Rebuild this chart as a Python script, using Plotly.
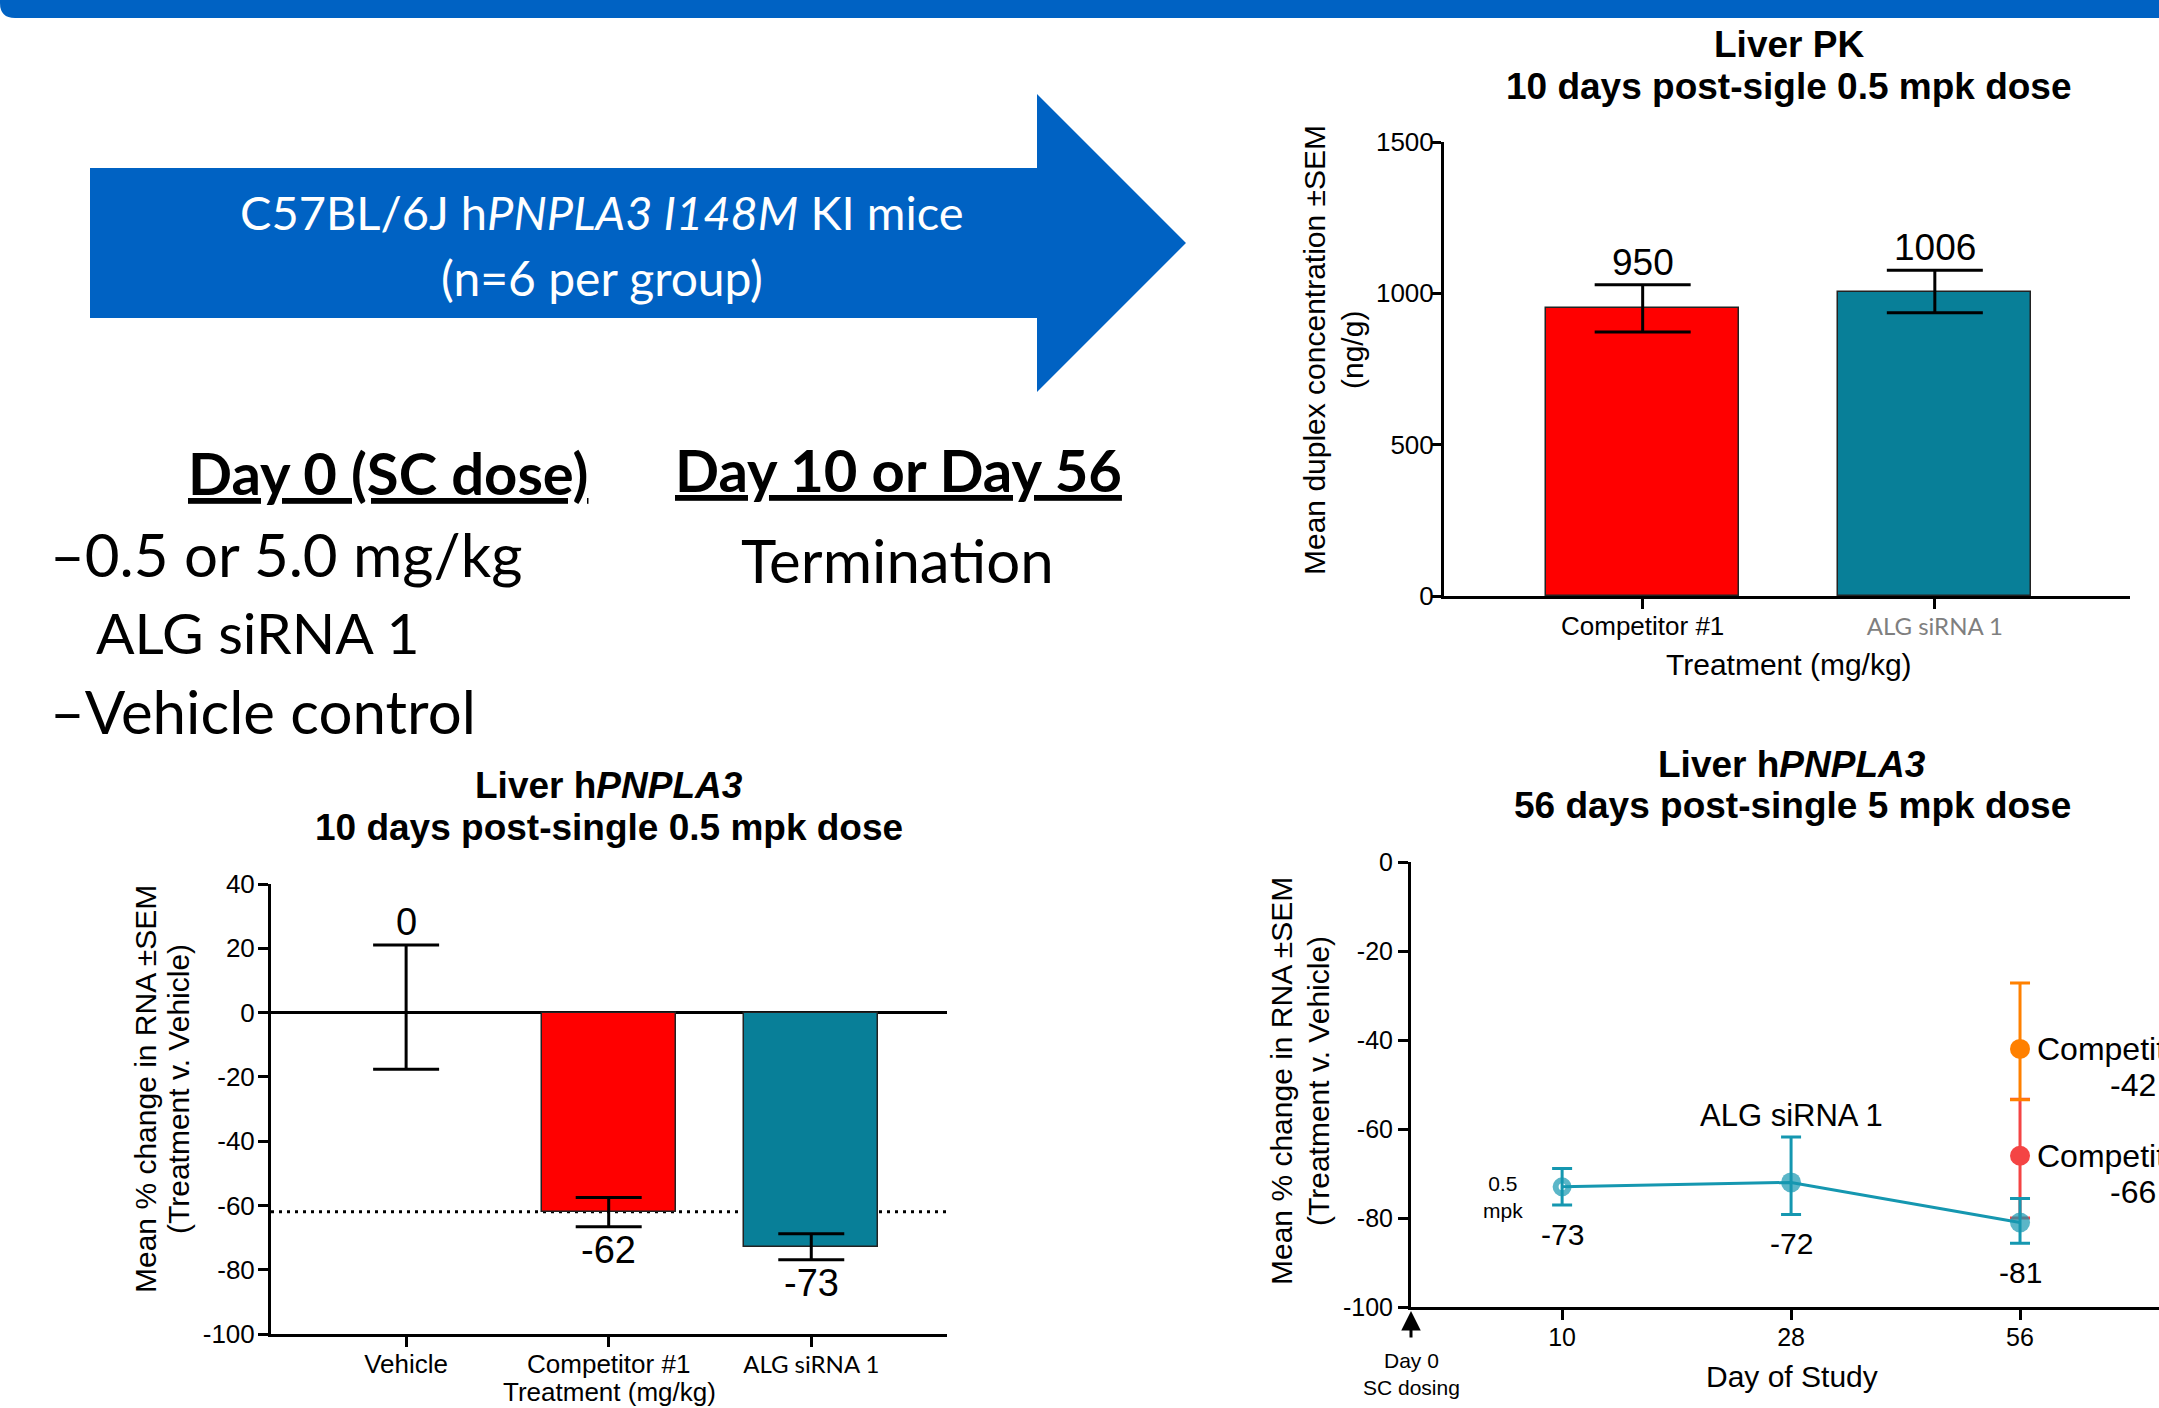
import plotly.graph_objects as go

W, H = 2159, 1408


def px(x):
    return x / W


def py(y):
    return 1 - y / H


BLUE = "#0062C3"
TEAL_BAR = "#087F98"
RED_BAR = "#FF0000"
TEAL_LINE = "#1597B0"
ORANGE = "#FF8000"
RED_PT = "#F44444"
ARIAL = "Liberation Sans, Arial, sans-serif"
CAL = "Lato, Carlito, Calibri, sans-serif"

# ---------------- data ----------------
pk_categories = ["Competitor #1", "ALG siRNA 1"]
pk_values = [950, 1006]
pk_sem = [78, 70]
pk_ticks = [0, 500, 1000, 1500]

kd10_categories = ["Vehicle", "Competitor #1", "ALG siRNA 1"]
kd10_values = [0, -62, -73]
kd10_err_plus = [21, 4.5, 4.2]
kd10_err_minus = [17.6, 4.6, 3.9]
kd10_ticks = [40, 20, 0, -20, -40, -60, -80, -100]

day_labels = ["10", "28", "56"]
alg_values = [-73, -72, -81]
alg_err_plus = [4.1, 10.2, 5.4]
alg_err_minus = [4.1, 7.2, 4.7]
comp1_day = ["56"]
comp1_values = [-66]
comp1_err_plus = [12.7]
comp1_err_minus = [14]
comp2_day = ["56"]
comp2_values = [-42]
comp2_err_plus = [14.8]
comp2_err_minus = [11.4]
kd56_ticks = [0, -20, -40, -60, -80, -100]

fig = go.Figure()

# ---------------- PK bars ----------------
fig.add_trace(go.Bar(
    x=pk_categories, y=pk_values, width=0.66,
    marker=dict(color=[RED_BAR, TEAL_BAR], line=dict(color="#222222", width=1.5)),
    error_y=dict(type="data", array=pk_sem, color="black", thickness=3, width=48),
    xaxis="x", yaxis="y", showlegend=False, hoverinfo="skip"))

# ---------------- 10-day knockdown bars ----------------
fig.add_trace(go.Bar(
    x=kd10_categories, y=kd10_values, width=0.662,
    marker=dict(color=["rgba(0,0,0,0)", RED_BAR, TEAL_BAR],
                line=dict(color="#222222", width=[0, 1.5, 1.5])),
    error_y=dict(type="data", symmetric=False, array=kd10_err_plus,
                 arrayminus=kd10_err_minus, color="black", thickness=3, width=33),
    xaxis="x2", yaxis="y2", showlegend=False, hoverinfo="skip"))

# ---------------- 56-day time course ----------------
fig.add_trace(go.Scatter(
    x=comp1_day, y=comp1_values, mode="markers",
    marker=dict(color=RED_PT, size=20),
    error_y=dict(type="data", symmetric=False, array=comp1_err_plus,
                 arrayminus=comp1_err_minus, color=RED_PT, thickness=3, width=10),
    xaxis="x3", yaxis="y3", showlegend=False, hoverinfo="skip"))
fig.add_trace(go.Scatter(
    x=comp2_day, y=comp2_values, mode="markers",
    marker=dict(color=ORANGE, size=20),
    error_y=dict(type="data", symmetric=False, array=comp2_err_plus,
                 arrayminus=comp2_err_minus, color=ORANGE, thickness=3, width=10),
    xaxis="x3", yaxis="y3", showlegend=False, hoverinfo="skip"))
fig.add_trace(go.Scatter(
    x=day_labels, y=alg_values, mode="lines+markers",
    line=dict(color=TEAL_LINE, width=3),
    marker=dict(color=TEAL_LINE, size=[13, 20, 20],
                symbol=["circle-open", "circle", "circle"],
                line=dict(color=TEAL_LINE, width=[6, 0, 0])),
    error_y=dict(type="data", symmetric=False, array=alg_err_plus,
                 arrayminus=alg_err_minus, color=TEAL_LINE, thickness=3, width=10),
    xaxis="x3", yaxis="y3", showlegend=False, hoverinfo="skip"))

axis_common = dict(showline=True, linecolor="black", linewidth=3, ticks="outside",
                   ticklen=10, tickwidth=3, tickcolor="black", showgrid=False,
                   zeroline=False, automargin=False,
                   tickfont=dict(family=ARIAL, size=26, color="black"))
font25 = dict(family=ARIAL, size=25, color="black")


def cal_span(t, color):
    return f"<span style='font-family:Lato;font-size:24px;color:{color}'>{t}</span>"


fig.update_layout(
    width=W, height=H, margin=dict(l=0, r=0, t=0, b=0, pad=0, autoexpand=False),
    paper_bgcolor="white", plot_bgcolor="white",
    bargap=0, showlegend=False,
    xaxis=dict(domain=[px(1444), px(2130)], anchor="y", type="category",
               categoryorder="array", categoryarray=pk_categories,
               range=[-0.68, 1.668], tickvals=pk_categories,
               ticktext=[pk_categories[0], cal_span(pk_categories[1], "#7F7F7F")],
               ticklabelstandoff=-5, **axis_common),
    yaxis=dict(domain=[py(596), py(142)], anchor="x", range=[0, 1500],
               tickvals=pk_ticks, ticktext=[str(t) for t in pk_ticks],
               ticklabelstandoff=-8, **axis_common),
    xaxis2=dict(domain=[px(271), px(947)], anchor="y2", type="category",
                categoryorder="array", categoryarray=kd10_categories,
                range=[-0.667, 2.67], tickvals=kd10_categories,
                ticktext=kd10_categories[:2] + [cal_span(kd10_categories[2], "black")],
                ticklabelstandoff=-5, **axis_common),
    yaxis2=dict(domain=[py(1334), py(884)], anchor="x2", range=[-100, 40],
                tickvals=kd10_ticks, ticktext=[str(t) for t in kd10_ticks],
                ticklabelstandoff=-2,
                **{**axis_common, "zeroline": True}, zerolinecolor="black",
                zerolinewidth=3),
    xaxis3=dict(domain=[px(1411), 1.0], anchor="y3", type="category",
                categoryorder="array", categoryarray=day_labels,
                range=[-0.66, 2.607], tickvals=day_labels, ticktext=day_labels,
                ticklabelstandoff=-4, **{**axis_common, "tickfont": font25}),
    yaxis3=dict(domain=[py(1307), py(862)], anchor="x3", range=[-100, 0],
                tickvals=kd56_ticks, ticktext=[str(t) for t in kd56_ticks],
                **{**axis_common, "tickfont": font25}),
)


def path_px(points, close=True):
    s = "M " + " L ".join(f"{px(x):.6f},{py(y):.6f}" for x, y in points)
    return s + (" Z" if close else "")


shapes = []
# top banner with rounded bottom-left corner
r = 15
banner = (f"M {px(0):.6f},{py(0):.6f} L {px(W):.6f},{py(0):.6f} L {px(W):.6f},{py(18):.6f} "
          f"L {px(r):.6f},{py(18):.6f} Q {px(0):.6f},{py(18):.6f} {px(0):.6f},{py(18 - r):.6f} Z")
shapes.append(dict(type="path", path=banner, xref="paper", yref="paper",
                   fillcolor=BLUE, line=dict(width=0)))
# big arrow
arrow_pts = [(90, 168), (1037, 168), (1037, 94), (1186, 243), (1037, 392),
             (1037, 318), (90, 318)]
shapes.append(dict(type="path", path=path_px(arrow_pts), xref="paper", yref="paper",
                   fillcolor=BLUE, line=dict(width=0)))
# dotted reference line at the competitor level
shapes.append(dict(type="line", xref="x2", yref="y2", x0=-0.667, x1=2.67,
                   y0=kd10_values[1], y1=kd10_values[1], layer="below",
                   line=dict(color="black", width=3, dash="3px,5px")))
fig.update_layout(shapes=shapes)

anns = []


def ann(text, x, y, size, family=ARIAL, color="black", xanchor="center",
        yanchor="middle", **kw):
    d = dict(text=text, x=px(x), y=py(y), xref="paper", yref="paper", showarrow=False,
             font=dict(family=family, size=size, color=color), xanchor=xanchor,
             yanchor=yanchor)
    d.update(kw)
    return d


# arrow text
anns.append(ann("C57BL/6J h<i>PNPLA3 I148M</i> KI mice", 602, 212, 47, CAL, "white"))
anns.append(ann("(n=6 per group)", 602, 277, 48, CAL, "white"))
# protocol text
anns.append(ann("<b><u>Day 0 (SC dose)</u></b>", 388, 472, 58, CAL))
anns.append(ann("<b><u>Day 10 or Day 56</u></b>", 898, 470, 58, CAL))
anns.append(ann("–0.5 or 5.0 mg/kg", 48, 554, 60, CAL, xanchor="left"))
anns.append(ann("ALG siRNA 1", 94, 632, 57, CAL, xanchor="left"))
anns.append(ann("–Vehicle control", 48, 711, 60, CAL, xanchor="left"))
anns.append(ann("Termination", 897, 560, 60, CAL))

# PK chart titles
anns.append(ann("<b>Liver PK</b>", 1789, 44, 37))
anns.append(ann("<b>10 days post-sigle 0.5 mpk dose</b>", 1789, 87, 37))
anns.append(ann("Mean duplex concentration ±SEM", 1315, 350, 30, textangle=-90))
anns.append(ann("(ng/g)", 1353, 350, 30, textangle=-90))
anns.append(ann("Treatment (mg/kg)", 1789, 664, 30))
for c, v, e in zip(pk_categories, pk_values, pk_sem):
    anns.append(dict(text=str(v), x=c, y=v + e, xref="x", yref="y", showarrow=False,
                     yanchor="bottom", font=dict(family=ARIAL, size=37, color="black")))

# 10-day knockdown titles
anns.append(ann("<b>Liver h<i>PNPLA3</i></b>", 609, 785, 37))
anns.append(ann("<b>10 days post-single 0.5 mpk dose</b>", 609, 828, 37))
anns.append(ann("Mean % change in RNA ±SEM", 145, 1089, 30, textangle=-90))
anns.append(ann("(Treatment v. Vehicle)", 178, 1089, 30, textangle=-90))
anns.append(ann("Treatment (mg/kg)", 609, 1408, 26, yanchor="bottom", borderpad=0))
for c, v, ep, em in zip(kd10_categories, kd10_values, kd10_err_plus, kd10_err_minus):
    if v >= 0:
        anns.append(dict(text=str(v), x=c, y=v + ep, xref="x2", yref="y2",
                         showarrow=False, yanchor="bottom",
                         font=dict(family=ARIAL, size=38, color="black")))
    else:
        anns.append(dict(text=str(v), x=c, y=v - em, xref="x2", yref="y2",
                         showarrow=False, yanchor="top",
                         font=dict(family=ARIAL, size=38, color="black")))

# 56-day titles
anns.append(ann("<b>Liver h<i>PNPLA3</i></b>", 1792, 764, 37))
anns.append(ann("<b>56 days post-single 5 mpk dose</b>", 1792, 806, 37))
anns.append(ann("Mean % change in RNA ±SEM", 1281, 1081, 30, textangle=-90))
anns.append(ann("(Treatment v. Vehicle)", 1318, 1081, 30, textangle=-90))
anns.append(ann("Day of Study", 1792, 1376, 30))
anns.append(ann("Day 0<br>SC dosing", 1411, 1374, 21))
anns.append(dict(text="", x=px(1411), y=py(1311), xref="paper", yref="paper",
                 showarrow=True, ax=0, ay=28, arrowhead=2, arrowsize=1.3,
                 arrowwidth=3, arrowcolor="black"))

# category axes take annotation positions as category indices
day_idx = {d: i for i, d in enumerate(day_labels)}
for d, v, em in zip(day_labels, alg_values, alg_err_minus):
    anns.append(dict(text=str(v), x=day_idx[d], y=v - em, xref="x3", yref="y3",
                     showarrow=False, yanchor="top", yshift=-11,
                     font=dict(family=ARIAL, size=30, color="black")))
anns.append(dict(text="ALG siRNA 1", x=day_idx[day_labels[1]],
                 y=alg_values[1] + alg_err_plus[1],
                 xref="x3", yref="y3", showarrow=False, yanchor="bottom", yshift=2,
                 font=dict(family=ARIAL, size=31, color="black")))
anns.append(dict(text="0.5<br>mpk", x=day_idx[day_labels[0]], y=alg_values[0],
                 xref="x3", yref="y3", showarrow=False, xshift=-59, yshift=-10,
                 font=dict(family=ARIAL, size=21, color="black")))
# series names for the competitors run off the right edge, as in the source slide
for name, d, v in (("Competitor #2", comp2_day[0], comp2_values[0]),
                   ("Competitor #1", comp1_day[0], comp1_values[0])):
    anns.append(dict(text=name, x=day_idx[d], y=v, xref="x3", yref="y3",
                     showarrow=False, xanchor="left", xshift=15,
                     font=dict(family=ARIAL, size=32, color="black")))
    anns.append(dict(text=str(v), x=day_idx[d], y=v, xref="x3", yref="y3",
                     showarrow=False, xanchor="center", xshift=113, yshift=-36,
                     font=dict(family=ARIAL, size=32, color="black")))

fig.update_layout(annotations=anns)
fig.write_html("out.html", config={"displayModeBar": False},
               post_script="document.body.style.margin='0';document.body.style.overflow='hidden';")
